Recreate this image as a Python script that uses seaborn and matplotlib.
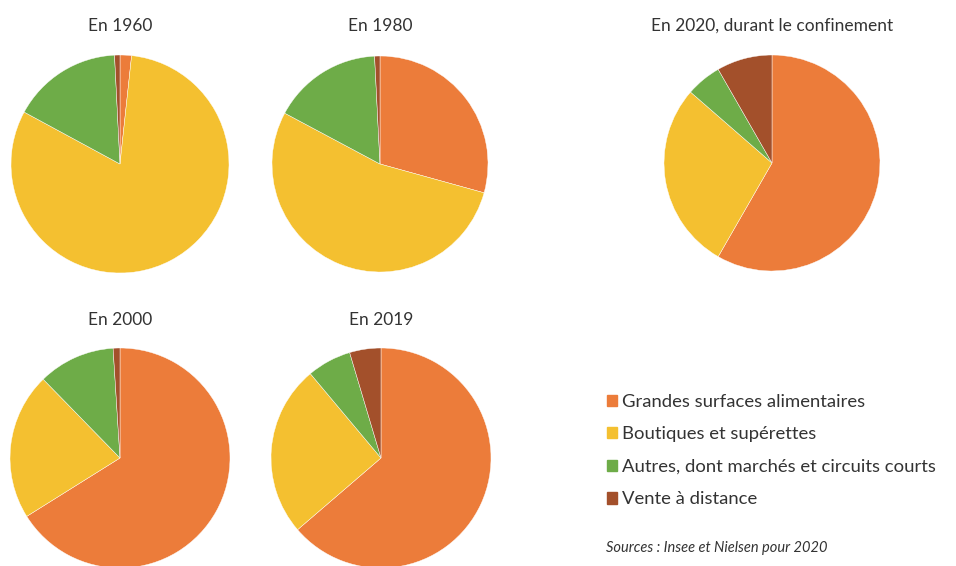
import matplotlib
matplotlib.use("Agg")
import matplotlib.pyplot as plt
import matplotlib.patches as mpatches
import seaborn as sns

# Parts de marché du commerce alimentaire (%)
categories = [
    "Grandes surfaces alimentaires",
    "Boutiques et supérettes",
    "Autres, dont marchés et circuits courts",
    "Vente à distance",
]
titles = ["En 1960", "En 1980", "En 2000", "En 2019", "En 2020, durant le confinement"]
share_1960 = [1.7, 81.2, 16.3, 0.8]
share_1980 = [29.3, 53.5, 16.4, 0.8]
share_2000 = [66.1, 21.6, 11.3, 1.0]
share_2019 = [63.7, 25.2, 6.5, 4.6]
share_2020 = [58.3, 28.1, 5.3, 8.3]

colors = ["#EC7C3A", "#F4C030", "#6EAC48", "#A3502B"]

sns.set_theme(style="white")
plt.rcParams["font.family"] = ["Lato", "DejaVu Sans"]

W, H = 956, 566
fig = plt.figure(figsize=(W / 100, H / 100), dpi=100)

# (centre x, centre y, rayon, y du titre) en pixels
layout = [
    (120, 164, 109, 26),
    (380, 164, 108, 26),
    (120, 458, 110, 320),
    (381, 458, 110, 320),
    (772, 163, 108, 26),
]
shares = [share_1960, share_1980, share_2000, share_2019, share_2020]

for (cx, cy, r, ty), vals, title in zip(layout, shares, titles):
    ax = fig.add_axes([(cx - r) / W, 1 - (cy + r) / H, 2 * r / W, 2 * r / H])
    ax.pie(vals, colors=colors, startangle=90, counterclock=False,
           wedgeprops=dict(linewidth=0.3, edgecolor="white"))
    ax.set_xlim(-1.0, 1.0)
    ax.set_ylim(-1.0, 1.0)
    ax.set_aspect("equal")
    ax.axis("off")
    fig.text(cx / W, 1 - ty / H, title, ha="center", va="center",
             fontsize=12.5, color="#333333")

handles = [mpatches.Patch(color=c, label=l) for c, l in zip(colors, categories)]
fig.legend(handles=handles, loc="upper left", bbox_to_anchor=(590 / W, 1 - 377 / H),
           frameon=False, fontsize=13.3, handlelength=0.55, handleheight=0.55,
           handletextpad=0.28, labelspacing=0.9, labelcolor="#333333")

fig.text(606 / W, 1 - 548 / H, "Sources : Insee et Nielsen pour 2020",
         ha="left", va="center", fontsize=10.5, style="italic", color="#333333")

fig.savefig("out.png", dpi=100, facecolor="white")
